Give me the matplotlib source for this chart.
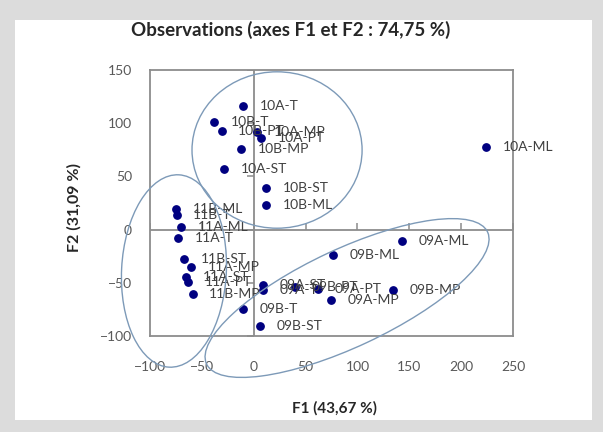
import matplotlib.pyplot as plt
import matplotlib.markers as mmarkers
from matplotlib.patches import Ellipse, Rectangle

# observations (F1, F2 scores)
labels = ['09A-ML', '09B-ML', '09A-ST', '09A-T', '09B-PT', '09A-PT', '09A-MP', '09B-MP', '09B-T', '09B-ST',
          '10A-T', '10B-T', '10B-PT', '10A-MP', '10A-PT', '10B-MP', '10A-ST', '10B-ST', '10B-ML', '10A-ML',
          '11B-ML', '11B-T', '11A-ML', '11A-T', '11B-ST', '11A-MP', '11A-ST', '11A-PT', '11B-MP']
f1 = [143.3, 76.8, 9.3, 9.3, 39.8, 62.3, 74.5, 134.6, -10.0, 6.1,
      -10.0, -38.0, -30.9, 3.5, 7.0, -12.5, -28.4, 11.9, 11.9, 224.0,
      -75.2, -74.3, -70.1, -72.7, -67.2, -60.5, -65.3, -63.1, -58.9]
f2 = [-10.7, -23.9, -52.1, -56.8, -54.2, -56.1, -66.2, -56.8, -74.9, -90.6,
      116.2, 101.1, 93.0, 91.7, 86.1, 75.8, 56.7, 39.4, 22.8, 77.6,
      19.2, 13.7, 2.7, -8.2, -27.6, -35.4, -44.6, -49.6, -60.8]

# group ellipses: center x, center y, width, height, angle
groups = [(22.5, 74.8, 164, 147, 0),
          (-76.9, -38.9, 101, 181, -3),
          (90.0, -64.3, 298, 92, 24.5)]

xticks = [-100, -50, 0, 50, 100, 150, 200, 250]
yticks = [-100, -50, 0, 50, 100, 150]

plt.rcParams['font.family'] = ['Lato', 'DejaVu Sans']

fig = plt.figure(figsize=(6.03, 4.32), dpi=100)
fig.patch.set_facecolor('#dcdcdc')
# white chart area inside the grey frame
frame = Rectangle((15 / 603, 1 - 420 / 432), 577 / 603, 400 / 432,
                  transform=fig.transFigure, facecolor='white',
                  edgecolor='none', zorder=-10)
fig.add_artist(frame)

ax = fig.add_axes([150 / 603, 1 - 336 / 432, 363 / 603, 266 / 432])
ax.set_xlim(-100, 250)
ax.set_ylim(-100, 150)

axis_col = '#8c8c8c'
for s in ax.spines.values():
    s.set_color(axis_col)
    s.set_linewidth(1.3)
ax.axhline(0, color=axis_col, lw=1.3, zorder=1)
ax.axvline(0, color=axis_col, lw=1.3, zorder=1)
# small tick marks on the zero axes
ax.plot(xticks, [0] * len(xticks), ls='none', marker=mmarkers.TICKUP,
        ms=5, mew=1.1, color=axis_col, zorder=1)
ax.plot([0] * len(yticks), yticks, ls='none', marker=mmarkers.TICKLEFT,
        ms=5, mew=1.1, color=axis_col, zorder=1)

ax.set_xticks(xticks)
ax.set_yticks(yticks)
ax.tick_params(axis='x', length=0, pad=18, labelsize=10, labelcolor='#595959')
ax.tick_params(axis='y', length=0, pad=13, labelsize=10, labelcolor='#595959')

ax.scatter(f1, f2, s=28, color='#000080', zorder=3)
for lab, x, y in zip(labels, f1, f2):
    ax.annotate(lab, (x, y), xytext=(12, 0), textcoords='offset points',
                va='center', ha='left', fontsize=10, color='#404040', zorder=4)

for cx, cy, w, h, ang in groups:
    ax.add_patch(Ellipse((cx, cy), w, h, angle=ang, fill=False,
                         edgecolor='#7d9ab8', lw=1.0, clip_on=False, zorder=5))

fig.text(291 / 603, 1 - 30 / 432, 'Observations (axes F1 et F2 : 74,75 %)',
         ha='center', va='center', fontsize=13.5, fontweight='bold', color='#262626')
fig.text(335 / 603, 1 - 408 / 432, 'F1 (43,67 %)', ha='center', va='center',
         fontsize=11, fontweight='bold', color='#262626')
fig.text(74 / 603, 1 - 207 / 432, 'F2 (31,09 %)', ha='center', va='center',
         rotation=90, fontsize=11.5, fontweight='bold', color='#262626')

plt.savefig('out.png', dpi=100)
